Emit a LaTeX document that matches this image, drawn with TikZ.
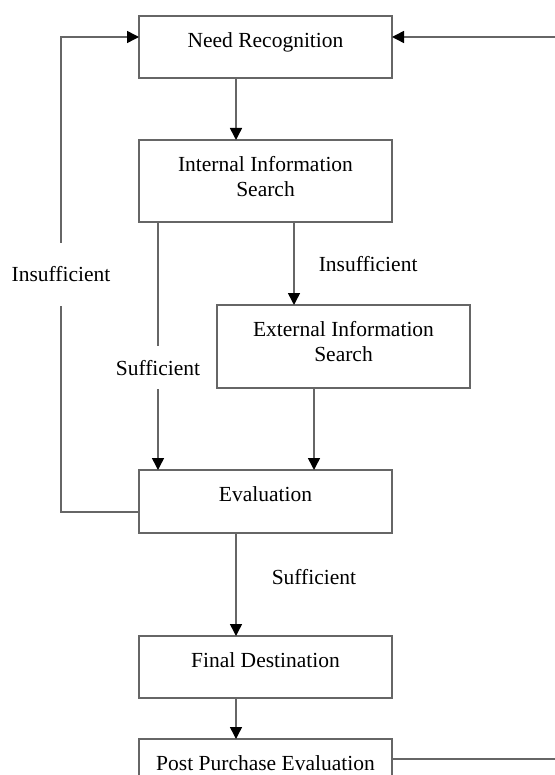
\documentclass[tikz,border=0pt]{standalone}
\usepackage{fontspec}
\setmainfont[Ligatures=CommonOff]{Liberation Serif}
\usetikzlibrary{arrows.meta,calc}
\begin{document}
\begin{tikzpicture}[x=1pt,y=-1pt,
  line/.style={draw=black!60, line width=1.5pt},
  box/.style={line, rectangle, minimum width=253pt, inner xsep=0pt, inner ysep=0pt,
    outer sep=0pt, align=center, text height=31.5pt,
    font=\fontsize{21.5}{25}\selectfont},
  arr/.style={line, -{Triangle[width=12pt,length=12pt,black]}},
  lab/.style={font=\fontsize{21.5}{25}\selectfont, inner sep=0pt}
]
\useasboundingbox (0,0) rectangle (554,775);

\node[box, text depth=30.5pt] (nr) at (265.5,47) {Need Recognition};
\node[box, text height=56.5pt, text depth=25.5pt] (int) at (265.5,181) {Internal Information\\Search};
\node[box, text height=56.5pt, text depth=26.5pt] (ext) at (343.5,346.5) {External Information\\Search};
\node[box, text depth=31.5pt] (eval) at (265.5,501.5) {Evaluation};
\node[box, text depth=30.5pt] (final) at (265.5,667) {Final Destination};
\node[box, text depth=30.5pt] (post) at (265.5,770) {Post Purchase Evaluation};

\coordinate (xa) at (236,0);
\coordinate (xs) at (158,0);
\coordinate (xi) at (294,0);
\coordinate (xe) at (314,0);
\coordinate (xl) at (61,0);
\coordinate (xr) at (560,0);
\coordinate (yt) at (0,37);
\coordinate (yl) at (0,512);
\coordinate (yp) at (0,759);

\draw[arr] (nr.south -| xa) -- (int.north -| xa);
\draw[arr] (int.south -| xs) -- node[lab, pos=0.587, fill=white, minimum height=43pt] {Sufficient} (eval.north -| xs);
\draw[arr] (int.south -| xi) -- node[lab, pos=0.51, anchor=west, xshift=24pt] {Insufficient} (ext.north -| xi);
\draw[arr] (ext.south -| xe) -- (eval.north -| xe);
\draw[arr] (eval.south -| xa) -- node[lab, pos=0.427, anchor=west, xshift=35pt] {Sufficient} (final.north -| xa);
\draw[arr] (final.south -| xa) -- (post.north -| xa);

\draw[arr] (eval.west |- yl) -- (xl |- yl)
  -- node[lab, fill=white, minimum height=63pt] {Insufficient} (xl |- yt)
  -- (nr.west |- yt);
\draw[arr] (post.east |- yp) -| (xr |- yt) -- (nr.east |- yt);
\end{tikzpicture}
\end{document}
